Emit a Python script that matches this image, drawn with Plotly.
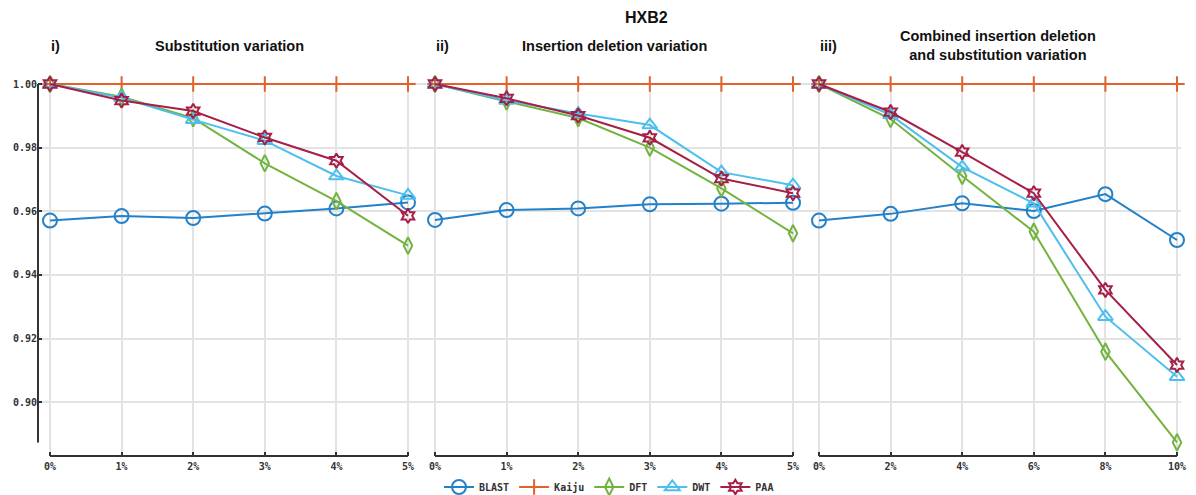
import plotly.graph_objects as go

# ---------------- data ----------------
x_sub = [0, 1, 2, 3, 4, 5]
x_sub_labels = ["0%", "1%", "2%", "3%", "4%", "5%"]
x_comb = [0, 2, 4, 6, 8, 10]
x_comb_labels = ["0%", "2%", "4%", "6%", "8%", "10%"]

series_names = ["BLAST", "Kaiju", "DFT", "DWT", "PAA"]

# i) Substitution variation
blast_sub = [0.9571, 0.9585, 0.9579, 0.9593, 0.9609, 0.9628]
kaiju_sub = [1.0, 1.0, 1.0, 1.0, 1.0, 1.0]
dft_sub = [1.0, 0.9960, 0.9893, 0.9751, 0.9632, 0.9492]
dwt_sub = [1.0, 0.9957, 0.9888, 0.9822, 0.9711, 0.9650]
paa_sub = [1.0, 0.9948, 0.9915, 0.9832, 0.9759, 0.9586]

# ii) Insertion deletion variation
blast_ind = [0.9573, 0.9604, 0.9609, 0.9622, 0.9624, 0.9627]
kaiju_ind = [1.0, 1.0, 1.0, 1.0, 1.0, 1.0]
dft_ind = [1.0, 0.9945, 0.9893, 0.9800, 0.9672, 0.9531]
dwt_ind = [1.0, 0.9948, 0.9907, 0.9871, 0.9723, 0.9682]
paa_ind = [1.0, 0.9955, 0.9901, 0.9831, 0.9703, 0.9657]

# iii) Combined insertion deletion and substitution variation
blast_comb = [0.9571, 0.9592, 0.9625, 0.9601, 0.9654, 0.9510]
kaiju_comb = [1.0, 1.0, 1.0, 1.0, 1.0, 1.0]
dft_comb = [1.0, 0.9890, 0.9711, 0.9536, 0.9159, 0.8874]
dwt_comb = [1.0, 0.9903, 0.9739, 0.9625, 0.9269, 0.9080]
paa_comb = [1.0, 0.9912, 0.9786, 0.9657, 0.9353, 0.9117]

y_ticks = [0.90, 0.92, 0.94, 0.96, 0.98, 1.00]

main_title = "HXB2"
panel_titles = ["Substitution variation", "Insertion deletion variation",
                "Combined insertion deletion<br>and substitution variation"]
panel_labels = ["i)", "ii)", "iii)"]

# ---------------- style ----------------
W, H = 1196, 495
MB = 24  # bottom margin reserved for the legend
colors = {"BLAST": "#2381c9", "Kaiju": "#e2622a", "DFT": "#73b33f",
          "DWT": "#4dbfee", "PAA": "#a61f47"}
symbols = {"BLAST": "circle-open", "Kaiju": "cross-thin-open", "DFT": "diamond-tall-open",
           "DWT": "triangle-up-open", "PAA": "hexagram-open"}
msizes = {"BLAST": 14, "Kaiju": 11, "DFT": 12, "DWT": 13, "PAA": 11}
mono = dict(family="DejaVu Sans Mono", size=10, color="#333333", weight="bold")
sans = "Liberation Sans, Arial, sans-serif"
grid_c = "#e3e3e3"
axis_c = "#333333"

# pixel layout
left_edges = [38, 421.5, 806]
right_edges = [421.5, 806, 1181]
first_px = [50, 435, 819]
last_px = [408, 793, 1177]
y_top_px, y_axis_px = 84, 456


def py2paper(py):
    return (H - MB - py) / (H - MB)


panels = [
    (x_sub, x_sub_labels, [blast_sub, kaiju_sub, dft_sub, dwt_sub, paa_sub]),
    (x_sub, x_sub_labels, [blast_ind, kaiju_ind, dft_ind, dwt_ind, paa_ind]),
    (x_comb, x_comb_labels, [blast_comb, kaiju_comb, dft_comb, dwt_comb, paa_comb]),
]

all_vals = [v for p in panels for s in p[2] for v in s]
y_min = min(all_vals)
y_max = 1.0
px_per_unit = 3183.0
y_bottom = y_max - (y_axis_px - y_top_px) / px_per_unit
y_top = y_max + 0.0006
y_dom = [py2paper(y_axis_px), py2paper(y_top_px - 0.0006 * px_per_unit)]

fig = go.Figure()
layout = dict(width=W, height=H, margin=dict(l=0, r=0, t=0, b=MB, pad=0), autosize=False,
              paper_bgcolor="white", plot_bgcolor="white", shapes=[], annotations=[])

for i, (xs, xlabels, ys) in enumerate(panels):
    k = "" if i == 0 else str(i + 1)
    xa, ya = "x" + k, "y" + k
    L, R, p0, p1 = left_edges[i], right_edges[i], first_px[i], last_px[i]
    xmax = xs[-1]
    s = (p1 - p0) / xmax
    r0 = -(p0 - L) / s
    r1 = xmax + (R - p1) / s
    for name, yv in zip(series_names, ys):
        fig.add_trace(go.Scatter(
            x=xs, y=yv, mode="lines+markers", name=name, xaxis=xa, yaxis=ya,
            line=dict(color=colors[name], width=2),
            marker=dict(symbol=symbols[name], size=msizes[name], color=colors[name],
                        line=dict(color=colors[name], width=2)),
            cliponaxis=False, showlegend=(i == 0), legendgroup=name,
            hoverinfo="skip"))
    layout["xaxis" + k] = dict(
        domain=[L / W, R / W], range=[r0, r1], anchor=ya, automargin=False,
        tickmode="array", tickvals=xs, ticktext=xlabels,
        showgrid=True, gridcolor=grid_c, gridwidth=2, zeroline=False, showline=False,
        ticks="inside", ticklen=4, tickwidth=2, tickcolor=axis_c,
        ticklabelstandoff=3,
        tickfont=mono, fixedrange=True)
    layout["yaxis" + k] = dict(
        domain=y_dom, range=[y_bottom, y_top], anchor=xa, automargin=False,
        tickmode="array", tickvals=y_ticks, tickformat=".2f",
        showgrid=True, gridcolor=grid_c, gridwidth=2, zeroline=False, showline=False,
        ticks="inside" if i == 0 else "", ticklen=4, tickwidth=2, tickcolor=axis_c,
        showticklabels=(i == 0), tickfont=mono, fixedrange=True)
    # detached x-axis line spanning first to last category
    layout["shapes"].append(dict(type="line", xref=xa, yref="paper",
                                 x0=xs[0], x1=xs[-1], y0=py2paper(y_axis_px), y1=py2paper(y_axis_px),
                                 line=dict(color=axis_c, width=2), layer="above"))
    # panel title and label
    cx = (p0 + p1) / 2
    layout["annotations"].append(dict(
        text="<b>" + panel_titles[i] + "</b>", xref="paper", yref="paper",
        x=cx / W, y=py2paper(46), xanchor="center", yanchor="middle", showarrow=False,
        font=dict(family=sans, size=14.5, color="#111111")))
    layout["annotations"].append(dict(
        text="<b>" + panel_labels[i] + "</b>", xref="paper", yref="paper",
        x=(p0 - 1) / W, y=py2paper(46), xanchor="left", yanchor="middle", showarrow=False,
        font=dict(family=sans, size=14.5, color="#111111")))

# y-axis line of panel 1 spanning the data domain
layout["shapes"].append(dict(type="line", xref="paper", yref="y",
                             x0=left_edges[0] / W, x1=left_edges[0] / W, y0=y_min, y1=y_max,
                             line=dict(color=axis_c, width=2), layer="above"))

layout["annotations"].append(dict(
    text="<b>" + main_title + "</b>", xref="paper", yref="paper",
    x=646 / W, y=py2paper(18), xanchor="center", yanchor="middle", showarrow=False,
    font=dict(family=sans, size=16, color="#111111")))

layout["legend"] = dict(orientation="h", xref="container", yref="container",
                        x=609 / W, xanchor="center", y=1 - 487 / H,
                        yanchor="middle", font=mono, bgcolor="rgba(0,0,0,0)",
                        itemwidth=30, tracegroupgap=0)
layout["showlegend"] = True

fig.update_layout(**layout)
fig.write_html("out.html")
